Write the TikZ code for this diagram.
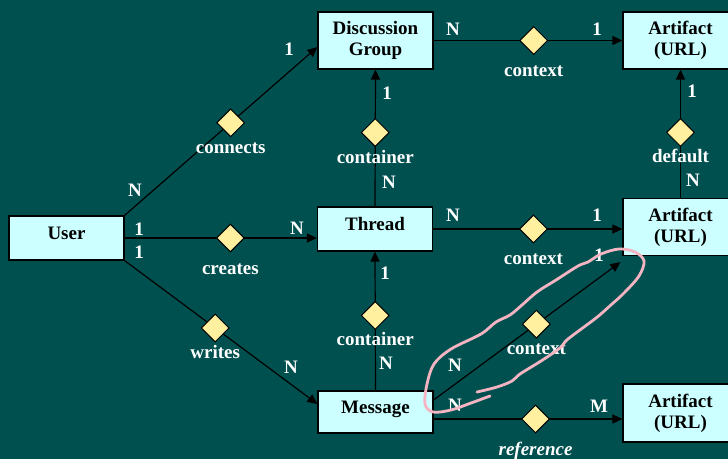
\documentclass[tikz,border=0pt]{standalone}
\usepackage{fontspec}
\setmainfont{Liberation Serif}
\usetikzlibrary{shapes.geometric,arrows.meta,positioning}
\definecolor{slate}{HTML}{005050}
\definecolor{boxfill}{HTML}{CCFFFF}
\definecolor{relfill}{HTML}{FFF0A0}
\definecolor{scribble}{HTML}{F4B4C2}

\begin{document}
\begin{tikzpicture}[x=1pt,y=-1pt,
  font=\fontsize{19}{21}\selectfont\bfseries,
  entity/.style={draw=black,line width=1.2pt,fill=boxfill,minimum width=115pt,minimum height=44pt,inner sep=0pt,text height=12pt,text depth=9pt},
  entity2/.style={draw=black,line width=1.2pt,fill=boxfill,minimum width=115pt,minimum height=57pt,inner sep=0pt,align=center},
  rel/.style={diamond,draw=black,line width=1pt,fill=relfill,minimum width=28pt,minimum height=28pt,inner sep=0pt},
  card/.style={text=white,inner sep=0pt},
  verb/.style={text=white,inner sep=0pt,text height=12pt,text depth=4pt},
  link/.style={line width=1.2pt,-{Triangle[length=10pt,width=9pt]}}]
\fill[slate] (0,0) rectangle (728,459);
\useasboundingbox (0,0) rectangle (728,459);

\node[entity]	(User)		at (66.5,238)		{User};
\node[entity2]	(Group)		at (375.5,40.5)		{Discussion\\Group};
\node[entity2]	(ArtTop)	at (680.5,40.5)		{Artifact\\(URL)};
\node[entity]	(Thread)	at (375,229)		{Thread};
\node[entity2]	(ArtMid)	at (680.5,227)		{Artifact\\(URL)};
\node[entity,minimum height=42pt]	(Msg)	at (375.5,412)	{Message};
\node[entity2,minimum height=58pt]	(ArtBot)	at (680.5,413)	{Artifact\\(URL)};

% relationships
\draw[link] (User.north east)	-- node[rel,pos=.55] (dConn) {}	([yshift=-6.5pt]Group.west);
\draw[link] (User.east)		-- node[rel,pos=.55] (dCrea) {}	(User.east -| Thread.west);
\draw[link] (User.south east)	-- node[rel,pos=.47] (dWrit) {}	([yshift=8pt]Msg.west);
\draw[link] (Thread.north)	-- node[rel,pos=.54] (dContG) {}	(Group.south);
\draw[link] (Msg.north)		-- node[rel,pos=.54] (dContT) {}	(Thread.south);
\draw[link] (Group.east)	-- node[rel,pos=.53] (dCtxG) {}	(ArtTop.west);
\draw[link] (Thread.east)	-- node[rel,pos=.53] (dCtxT) {}	(Thread.east -| ArtMid.west);
\draw[link] (ArtMid.north)	-- node[rel,pos=.51] (dDef) {}	(ArtTop.south);
\draw[link] ([yshift=12pt]Msg.east)	-- node[rel,pos=.55] (dCtxM) {}	([shift={(-2pt,-6pt)}]ArtMid.south west);
\draw[link] ([yshift=-7pt]Msg.east)	-- node[rel,pos=.54] (dRef) {}	([yshift=-7pt]Msg.east -| ArtBot.west);

% relationship names
\node[verb]	(lConn)		[below=4pt of dConn]	{connects};
\node[verb]	(lCrea)		[below=10pt of dCrea]	{creates};
\node[verb]	(lWrit)		[below=4pt of dWrit]	{writes};
\node[verb]	(lContG)	[below=4pt of dContG]	{container};
\node[verb]	(lContT)	[below=3pt of dContT]	{container};
\node[verb]	(lCtxG)		[below=9pt of dCtxG]	{context};
\node[verb]	(lCtxT)		[below=9pt of dCtxT]	{context};
\node[verb]	(lDef)		[below=3pt of dDef]	{default};
\node[verb]	(lCtxM)		[below=4pt of dCtxM]	{context};
\node[verb]	(lRef)		[below=10pt of dRef]	{\itshape reference};

% cardinalities
\node[card]	(cConnU)	at (135,190)	{N};
\node[card]	(cConnG)	at (289,49)	{1};
\node[card]	(cCreaU)	at (139,229)	{1};
\node[card]	(cCreaT)	at (297,228)	{N};
\node[card]	(cWritU)	at (139,252)	{1};
\node[card]	(cWritM)	at (291,367)	{N};
\node[card]	(cContGG)	at (387,93)	{1};
\node[card]	(cContGT)	at (389,182)	{N};
\node[card]	(cCtxGG)	at (453,29)	{N};
\node[card]	(cCtxGA)	at (597,29)	{1};
\node[card]	(cDefA)		at (692,91)	{1};
\node[card]	(cDefM)		at (693,180)	{N};
\node[card]	(cCtxTT)	at (453,215)	{N};
\node[card]	(cCtxTA)	at (597,215)	{1};
\node[card]	(cContTT)	at (385,273)	{1};
\node[card]	(cContTM)	at (386,363)	{N};
\node[card]	(cCtxMM)	at (455,365)	{N};
\node[card]	(cCtxMA)	at (599,255)	{1};
\node[card]	(cRefM)		at (455,405)	{N};
\node[card]	(cRefA)		at (599,406)	{M};

% hand-drawn mark
\draw[scribble,line width=2.8pt,line cap=round,line join=round] plot[smooth,tension=.55] coordinates {
(477,392) (497,387) (512,381) (520,374) (541,361) (560,348) (568,339) (596,318) (612,304) (624,293) (639,276) (644,261) (635,252) (619,249) (601,254) (588,262) (578,266) (556,280) (537,292) (522,305) (510,315) (496,322) (481,334) (451,349) (434,364) (427,384) (425,404) (433,412) (451,410) (471,403) (490,396)};
\end{tikzpicture}
\end{document}
